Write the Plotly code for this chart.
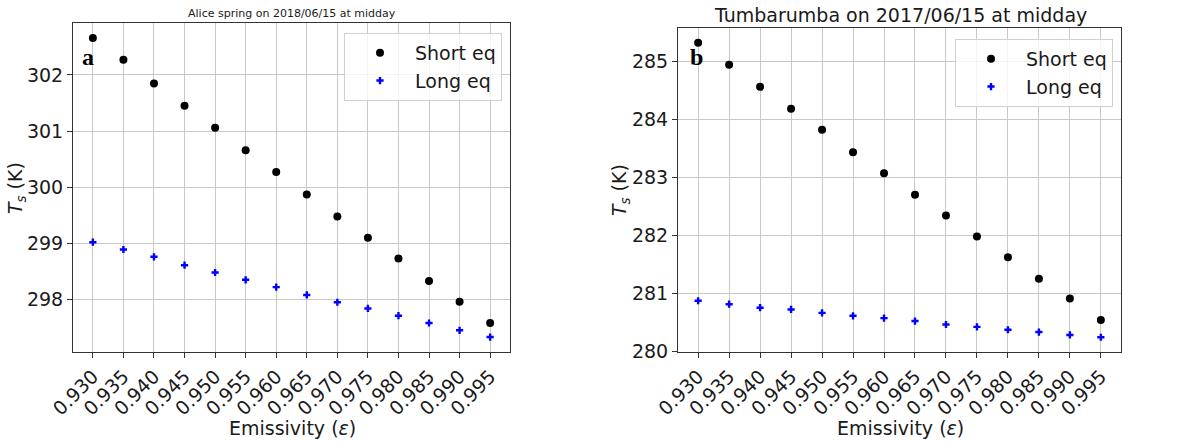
import plotly.graph_objects as go

emissivity = [0.930, 0.935, 0.940, 0.945, 0.950, 0.955, 0.960, 0.965, 0.970, 0.975, 0.980, 0.985, 0.990, 0.995]
tick_labels = ["0.930", "0.935", "0.940", "0.945", "0.950", "0.955", "0.960", "0.965", "0.970", "0.975", "0.980", "0.985", "0.990", "0.995"]

alice_short = [302.66, 302.27, 301.85, 301.45, 301.06, 300.66, 300.27, 299.87, 299.48, 299.10, 298.73, 298.33, 297.96, 297.58]
alice_long = [299.02, 298.89, 298.76, 298.61, 298.48, 298.35, 298.22, 298.08, 297.95, 297.84, 297.71, 297.58, 297.45, 297.33]

tumba_short = [285.32, 284.94, 284.56, 284.18, 283.82, 283.43, 283.07, 282.70, 282.34, 281.98, 281.62, 281.25, 280.91, 280.54]
tumba_long = [280.87, 280.81, 280.75, 280.72, 280.66, 280.61, 280.57, 280.52, 280.46, 280.42, 280.37, 280.33, 280.28, 280.24]

alice_yticks = [298, 299, 300, 301, 302]
tumba_yticks = [280, 281, 282, 283, 284, 285]

FONT = "DejaVu Sans"
W, H = 1192, 442

fig = go.Figure()

def add_pair(short, long, xa, ya, legend):
    fig.add_trace(go.Scatter(x=emissivity, y=short, mode="markers", name="Short eq",
                             marker=dict(color="black", size=8, symbol="circle"),
                             xaxis=xa, yaxis=ya, legend=legend))
    fig.add_trace(go.Scatter(x=emissivity, y=long, mode="markers", name="Long eq",
                             marker=dict(color="blue", size=6, symbol="cross"),
                             xaxis=xa, yaxis=ya, legend=legend))

add_pair(alice_short, alice_long, "x", "y", "legend")
add_pair(tumba_short, tumba_long, "x2", "y2", "legend2")

def yr(vals):
    lo = min(vals); hi = max(vals); m = (hi - lo) * 0.05
    return [lo - m, hi + m]

xm = (emissivity[-1] - emissivity[0]) * 0.05
xrange_ = [emissivity[0] - xm, emissivity[-1] + xm]

axis_common = dict(showline=True, linecolor="#333333", linewidth=1, mirror=True,
                   showgrid=True, gridcolor="#c8c8c8", gridwidth=1,
                   ticks="outside", ticklen=5, tickcolor="#333333", automargin=False,
                   zeroline=False, tickfont=dict(family=FONT, size=19, color="#1a1a1a"))

legend_common = dict(xanchor="right", yanchor="top",
                     font=dict(family=FONT, size=19, color="#1a1a1a"),
                     bgcolor="rgba(255,255,255,0.8)", bordercolor="#d0d0d0", borderwidth=1,
                     itemwidth=60, tracegroupgap=4)

fig.update_layout(
    width=W, height=H,
    margin=dict(l=0, r=0, t=0, b=0, autoexpand=False),
    paper_bgcolor="white", plot_bgcolor="white",
    xaxis=dict(domain=[73 / W, 510 / W], range=xrange_, tickvals=emissivity, ticktext=tick_labels,
               tickangle=-45, anchor="y", **axis_common),
    yaxis=dict(domain=[1 - 352 / H, 1 - 23 / H], range=yr(alice_short + alice_long),
               tickvals=alice_yticks, anchor="x", **axis_common),
    xaxis2=dict(domain=[678 / W, 1121 / W], range=xrange_, tickvals=emissivity, ticktext=tick_labels,
                tickangle=-45, anchor="y2", **axis_common),
    yaxis2=dict(domain=[1 - 352 / H, 1 - 28 / H], range=yr(tumba_short + tumba_long),
                tickvals=tumba_yticks, anchor="x2", **axis_common),
    legend=dict(x=502 / W, y=1 - 33 / H, **legend_common),
    legend2=dict(x=1113 / W, y=1 - 39 / H, **legend_common),
)

ann = [
    dict(text="Alice spring on 2018/06/15 at midday", x=292 / W, y=1 - 13 / H,
         font=dict(family=FONT, size=11, color="#1a1a1a")),
    dict(text="Tumbarumba on 2017/06/15 at midday", x=900 / W, y=1 - 15 / H,
         font=dict(family=FONT, size=19, color="#1a1a1a")),
    dict(text="Emissivity (<i>ε</i>)", x=292 / W, y=1 - 428 / H,
         font=dict(family=FONT, size=19, color="#1a1a1a")),
    dict(text="Emissivity (<i>ε</i>)", x=900 / W, y=1 - 428 / H,
         font=dict(family=FONT, size=19, color="#1a1a1a")),
    dict(text="<i>T<sub>s</sub></i> (K)", x=16 / W, y=1 - 188 / H, textangle=-90,
         font=dict(family=FONT, size=19, color="#1a1a1a")),
    dict(text="<i>T<sub>s</sub></i> (K)", x=620 / W, y=1 - 190 / H, textangle=-90,
         font=dict(family=FONT, size=19, color="#1a1a1a")),
    dict(text="<b>a</b>", x=88 / W, y=1 - 57 / H,
         font=dict(family="Liberation Serif", size=24, color="black")),
    dict(text="<b>b</b>", x=696 / W, y=1 - 57 / H,
         font=dict(family="Liberation Serif", size=24, color="black")),
]
for a in ann:
    a.update(xref="paper", yref="paper", showarrow=False, xanchor="center", yanchor="middle")
fig.update_layout(annotations=ann)

fig.write_html("out.html", config={"displayModeBar": False},
               post_script="document.body.style.margin='0';document.body.style.padding='0';"
                           "document.documentElement.style.overflow='hidden';")
